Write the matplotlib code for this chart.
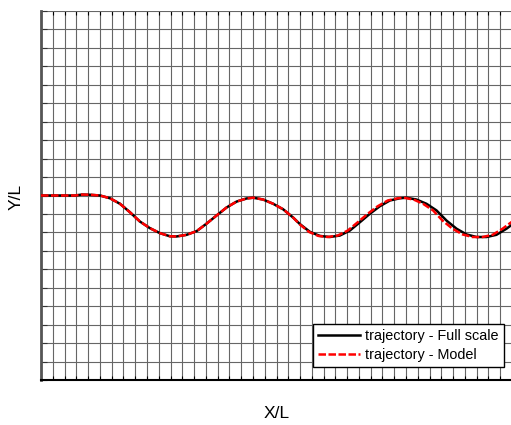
import matplotlib
matplotlib.use("Agg")
import matplotlib.pyplot as plt
import numpy as np

plt.rcParams['font.family'] = ['Liberation Sans', 'DejaVu Sans']

# trajectory, full scale (X/L, Y/L in grid units)
x_full = [0.0, 1.61, 2.89, 3.48, 4.16, 5.01, 5.86, 6.71, 7.56, 8.40, 9.25, 10.10,
          10.95, 11.52, 12.37, 13.22, 14.07, 14.92, 15.76, 16.61, 17.46, 18.02,
          18.87, 19.72, 20.57, 21.42, 21.99, 22.84, 23.68, 24.53, 25.38, 26.23,
          27.08, 27.93, 28.78, 29.63, 30.48, 31.04, 31.89, 32.74, 33.59, 34.44,
          35.29, 36.14, 36.99, 37.84, 38.68, 39.53, 40.0]
y_full = [0.0, 0.0, 0.0, 0.05, 0.04, 0.0, -0.15, -0.45, -0.91, -1.41, -1.77, -2.04,
          -2.21, -2.22, -2.13, -1.93, -1.52, -1.08, -0.65, -0.33, -0.16, -0.12,
          -0.22, -0.45, -0.75, -1.20, -1.55, -1.97, -2.19, -2.25, -2.17, -1.90,
          -1.45, -0.99, -0.58, -0.27, -0.15, -0.12, -0.22, -0.45, -0.81, -1.36,
          -1.80, -2.11, -2.25, -2.25, -2.13, -1.80, -1.58]

# trajectory, model scale
x_model = [0.0, 1.61, 2.89, 3.48, 4.16, 5.01, 5.86, 6.71, 7.56, 8.40, 9.25, 10.10,
           10.95, 11.52, 12.37, 13.22, 14.07, 14.92, 15.76, 16.61, 17.46, 18.02,
           18.87, 19.72, 20.57, 21.42, 21.95, 22.75, 23.55, 24.35, 25.20, 26.05,
           26.90, 27.75, 28.60, 29.45, 30.30, 30.80, 31.65, 32.45, 33.30, 34.10,
           34.95, 35.80, 36.65, 37.50, 38.35, 39.20, 40.0]
y_model = [0.0, 0.0, 0.0, 0.05, 0.04, 0.0, -0.15, -0.45, -0.91, -1.41, -1.77, -2.04,
           -2.21, -2.22, -2.13, -1.93, -1.52, -1.08, -0.65, -0.33, -0.16, -0.12,
           -0.22, -0.45, -0.75, -1.20, -1.55, -1.97, -2.19, -2.25, -2.17, -1.90,
           -1.45, -0.99, -0.58, -0.27, -0.15, -0.12, -0.22, -0.45, -0.81, -1.36,
           -1.80, -2.11, -2.25, -2.25, -2.13, -1.80, -1.42]

fig = plt.figure(figsize=(5.11, 4.25), dpi=100)
ax = fig.add_axes([41/511, 45/425, 471/511, 369/425])

ax.plot(x_full, y_full, color='black', lw=1.8, label='trajectory - Full scale', zorder=3)
ax.plot(x_model, y_model, color='red', lw=1.8, ls=(0, (3, 1)), label='trajectory - Model', zorder=4)

ax.set_xlim(0, 40)
ax.set_ylim(-10, 10)
ax.set_xticks(np.arange(0, 41, 1))
ax.set_yticks(np.arange(-10, 11, 1))
ax.set_xticklabels([])
ax.set_yticklabels([])
ax.grid(True, color='#666666', lw=0.8)
ax.set_axisbelow(True)

ax.tick_params(axis='x', direction='in', length=3, width=0.8, top=True, bottom=True, color='black')
ax.tick_params(axis='y', direction='in', length=4, width=0.8, left=True, right=False, color='#333333')

ax.spines['top'].set_visible(False)
ax.spines['right'].set_visible(False)
ax.spines['left'].set_color('#555555')
ax.spines['left'].set_linewidth(2)
ax.spines['bottom'].set_color('black')
ax.spines['bottom'].set_linewidth(1.5)

leg = ax.legend(loc='lower right', bbox_to_anchor=(0.983, 0.035), borderaxespad=0,
                fontsize=10.4, handlelength=2.9, handletextpad=0.35, labelspacing=0.35,
                borderpad=0.35, fancybox=False, framealpha=1, edgecolor='black')
leg.get_frame().set_linewidth(1.0)

fig.text(277/511, 1 - 413/425, 'X/L', ha='center', va='center', fontsize=12.5)
fig.text(16/511, 1 - 197/425, 'Y/L', ha='center', va='center', rotation=90, fontsize=12.5)

fig.savefig('out.png', dpi=100)
